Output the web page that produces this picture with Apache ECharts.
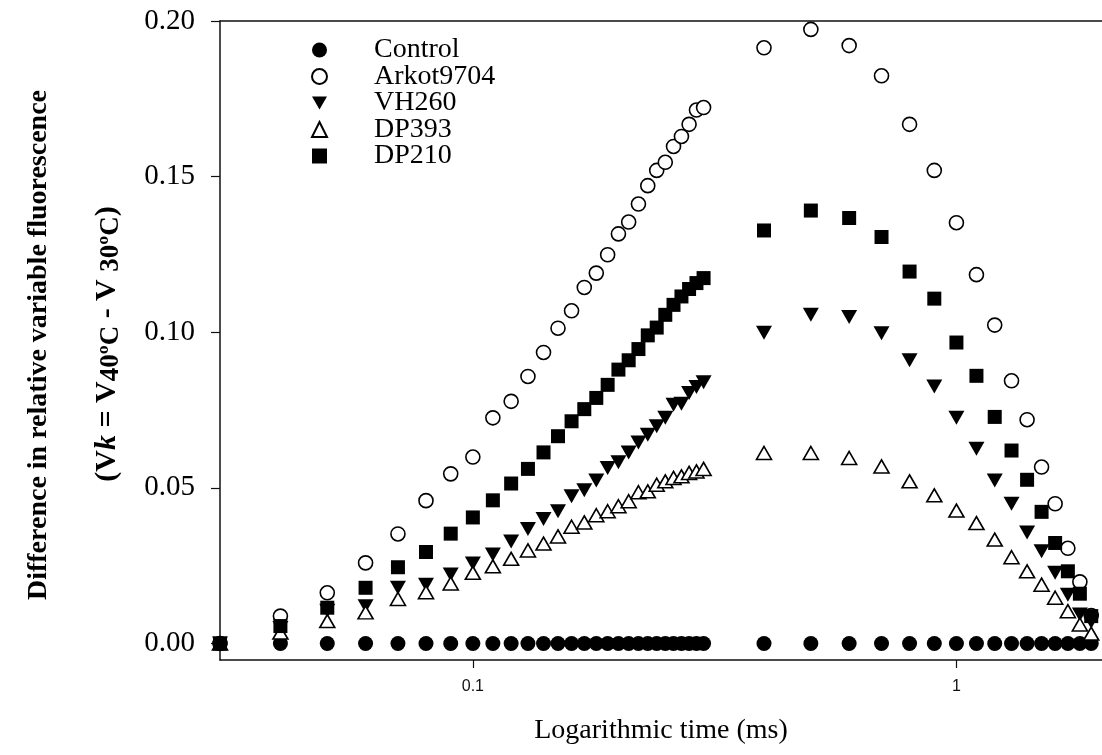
<!DOCTYPE html>
<html>
<head>
<meta charset="utf-8">
<script src="https://cdn.jsdelivr.net/npm/echarts@6/dist/echarts.min.js"></script>
<style>
html,body{margin:0;padding:0;background:#fff;}
#chart{width:1102px;height:755px;}
</style>
</head>
<body>
<div id="chart"></div>
<script>
// time (ms)
const times = [0.03,0.04,0.05,0.06,0.07,0.08,0.09,0.10,0.11,0.12,0.13,0.14,0.15,0.16,0.17,0.18,0.19,0.20,0.21,0.22,0.23,0.24,0.25,0.26,0.27,0.28,0.29,0.30,
  0.4,0.5,0.6,0.7,0.8,0.9,1.0,1.1,1.2,1.3,1.4,1.5,1.6,1.7,1.8,1.9];
const control = [0,0,0,0,0,0,0,0,0,0,0,0,0,0,0,0,0,0,0,0,0,0,0,0,0,0,0,0,
  0,0,0,0,0,0,0,0,0,0,0,0,0,0,0,0];
const arkot9704 = [0,0.0088,0.0163,0.0259,0.0352,0.0459,0.0545,0.0599,0.0725,0.0778,0.0858,0.0935,0.1013,0.1069,0.1144,0.119,0.1249,0.1316,0.1354,0.1412,0.1471,0.152,0.1546,0.1597,0.1629,0.1668,0.1714,0.1722,
  0.1914,0.1973,0.1921,0.1824,0.1668,0.152,0.1352,0.1185,0.1023,0.0844,0.0719,0.0567,0.0449,0.0306,0.0198,0.009];
const vh260 = [0,0.005,0.0105,0.012,0.0179,0.0189,0.0222,0.0257,0.0286,0.0328,0.0368,0.040,0.0425,0.0473,0.0492,0.0524,0.0564,0.0582,0.0614,0.0646,0.0671,0.0698,0.0725,0.0767,0.077,0.0805,0.0824,0.0839,
  0.0998,0.1056,0.1049,0.0997,0.091,0.0826,0.0725,0.0626,0.0524,0.0449,0.0357,0.0296,0.0227,0.0157,0.0093,0.007];
const dp393 = [0,0.0035,0.0072,0.010,0.0143,0.0165,0.0193,0.0227,0.0248,0.0272,0.0299,0.0321,0.0344,0.0375,0.0389,0.0412,0.0425,0.0441,0.0457,0.0486,0.0489,0.051,0.0521,0.0532,0.0537,0.0548,0.0553,0.0561,
  0.0612,0.0612,0.0596,0.0569,0.0521,0.0476,0.0427,0.0387,0.0334,0.0277,0.0232,0.0189,0.0147,0.0104,0.0061,0.0032];
const dp210 = [0,0.0056,0.0115,0.0179,0.0245,0.0294,0.0353,0.0405,0.046,0.0514,0.0561,0.0614,0.0666,0.0714,0.0753,0.0789,0.0831,0.088,0.091,0.0946,0.099,0.1015,0.1056,0.1088,0.1115,0.1139,0.1158,0.1174,
  0.1327,0.1391,0.1367,0.1306,0.1195,0.1108,0.0967,0.086,0.0728,0.062,0.0526,0.0423,0.0323,0.0232,0.016,0.0088];
const yTicks = [0, 0.05, 0.10, 0.15, 0.20];
const xTicks = [0.1, 1];
const seriesNames = ['Control','Arkot9704','VH260','DP393','DP210'];

const pair = arr => times.map((t, i) => [t, arr[i]]);
const serif = 'Liberation Serif';
const invTri = 'path://M0,0L10,0L5,8.66Z';

const chart = echarts.init(document.getElementById('chart'), null, {renderer: 'canvas'});
const opt = {
  animation: false,
  backgroundColor: '#fff',
  grid: {left: 220, right: 0, top: 21, bottom: 95, containLabel: false},
  xAxis: [{
    type: 'log', logBase: 10, min: 0.03, max: 2,
    position: 'bottom',
    axisLine: {show: true, onZero: false, lineStyle: {color: '#111', width: 1.5}},
    axisTick: {show: true, inside: false, length: 8, lineStyle: {color: '#111', width: 1.2}, customValues: xTicks},
    minorTick: {show: false},
    axisLabel: {show: true, customValues: xTicks, margin: 19, fontFamily: 'Liberation Sans', fontSize: 16, color: '#111',
      formatter: v => String(+v.toPrecision(3))},
    splitLine: {show: false},
    name: 'Logarithmic time (ms)', nameLocation: 'middle', nameGap: 57,
    nameTextStyle: {fontFamily: serif, fontSize: 28, color: '#000'}
  }, {
    type: 'log', logBase: 10, min: 0.03, max: 2, position: 'top',
    axisLine: {show: true, onZero: false, lineStyle: {color: '#111', width: 1.5}},
    axisTick: {show: false}, axisLabel: {show: false}, splitLine: {show: false}
  }],
  yAxis: {
    type: 'value', min: -0.0053, max: 0.2,
    axisLine: {show: true, onZero: false, lineStyle: {color: '#111', width: 1.5}},
    axisTick: {show: true, inside: false, length: 9, lineStyle: {color: '#111', width: 1.2}, customValues: yTicks},
    axisLabel: {show: true, customValues: yTicks, margin: 25, fontFamily: serif, fontSize: 29, color: '#000',
      formatter: v => v.toFixed(2)},
    splitLine: {show: false}
  },
  legend: {
    orient: 'vertical', left: 306, top: 31, itemGap: -1.5, itemWidth: 15, itemHeight: 15,
    data: seriesNames,
    textStyle: {fontFamily: serif, fontSize: 28, color: '#000', lineHeight: 20, padding: [0, 0, 0, 42]}
  },
  graphic: [
    {type: 'text', x: 39, y: 345, rotation: Math.PI / 2,
      style: {text: 'Difference in relative variable fluorescence', font: 'bold 28px "Liberation Serif"', fill: '#000', textAlign: 'center', textVerticalAlign: 'middle'}},
    {type: 'text', x: 107, y: 344, rotation: Math.PI / 2,
      style: {
        text: '{b|(V}{bi|k}{b| = V}{sub|40ºC}{b| - V }{sub|30ºC}{b|)}',
        textAlign: 'center', textVerticalAlign: 'middle', fill: '#000',
        rich: {
          b: {fontFamily: serif, fontWeight: 'bold', fontSize: 30, lineHeight: 36, verticalAlign: 'middle'},
          bi: {fontFamily: serif, fontWeight: 'bold', fontStyle: 'italic', fontSize: 30, lineHeight: 36, verticalAlign: 'middle'},
          sub: {fontFamily: serif, fontWeight: 'bold', fontSize: 27, lineHeight: 22, verticalAlign: 'bottom'}
        }
      }}
  ],
  series: [
    {name: 'Control', type: 'scatter', data: pair(control), symbol: 'circle', symbolSize: 15,
      itemStyle: {color: '#000', borderColor: '#000', borderWidth: 0, opacity: 1}},
    {name: 'Arkot9704', type: 'scatter', data: pair(arkot9704), symbol: 'circle', symbolSize: 14,
      itemStyle: {color: '#fff', borderColor: '#000', borderWidth: 1.6, opacity: 1}},
    {name: 'VH260', type: 'scatter', data: pair(vh260), symbol: invTri, symbolSize: [16, 14],
      itemStyle: {color: '#000', borderColor: '#000', borderWidth: 0, opacity: 1}},
    {name: 'DP393', type: 'scatter', data: pair(dp393), symbol: 'triangle', symbolSize: [15, 13],
      itemStyle: {color: '#fff', borderColor: '#000', borderWidth: 1.6, opacity: 1}},
    {name: 'DP210', type: 'scatter', data: pair(dp210), symbol: 'rect', symbolSize: 14,
      itemStyle: {color: '#000', borderColor: '#000', borderWidth: 0, opacity: 1}}
  ]
};
chart.setOption(opt);
</script>
</body>
</html>
